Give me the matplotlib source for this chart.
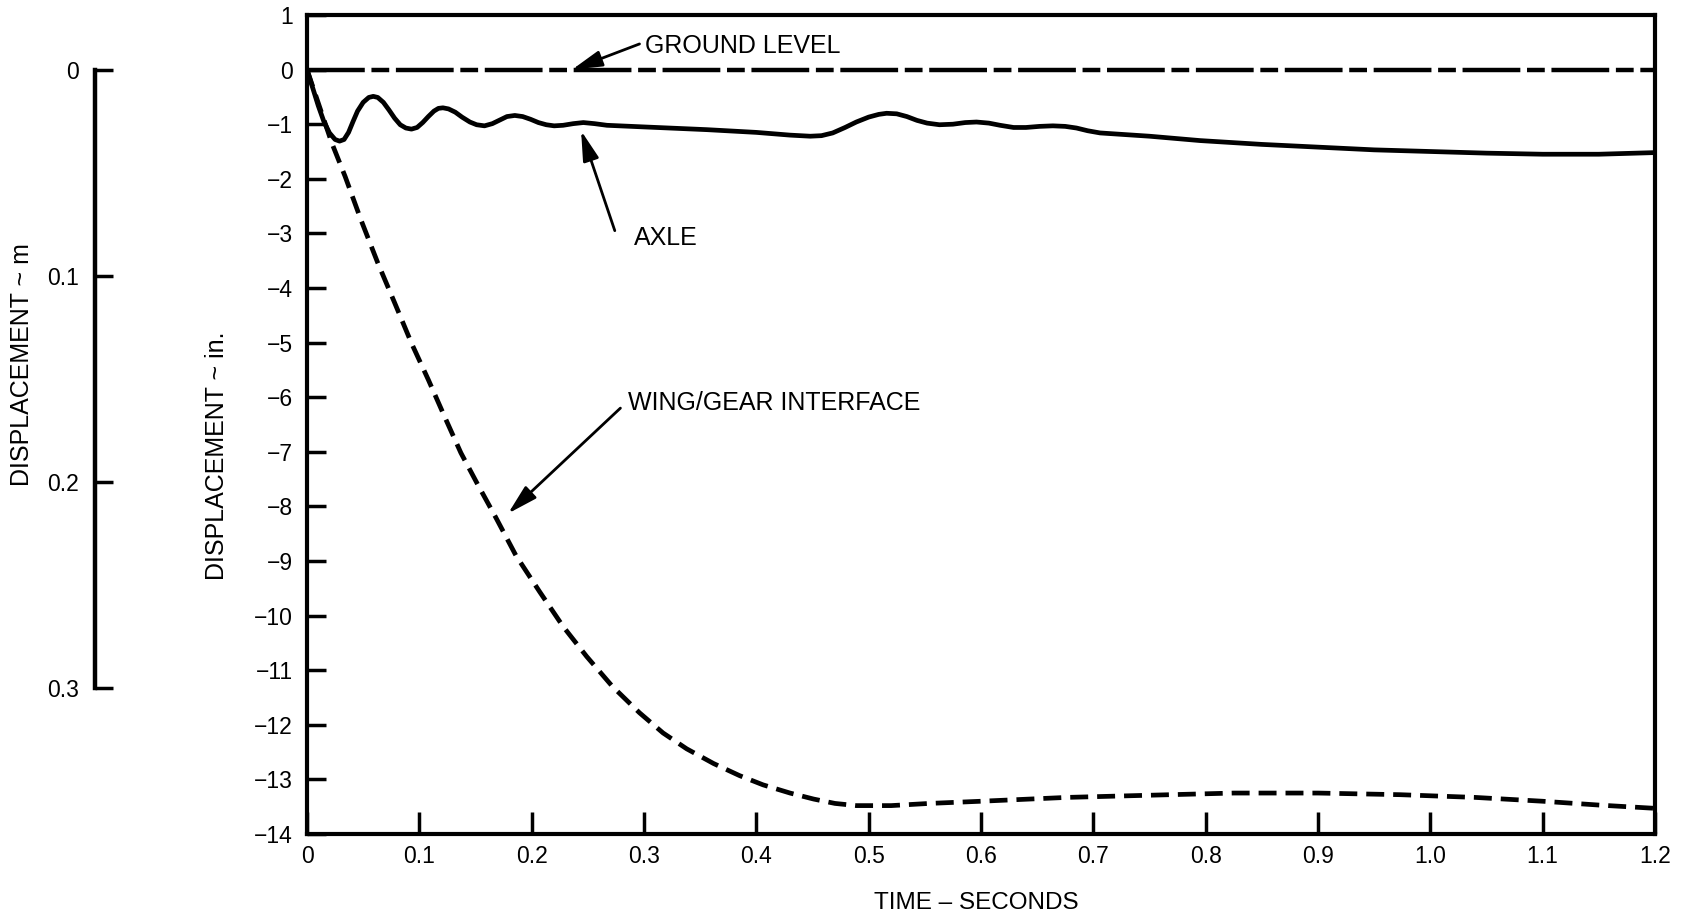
import numpy as np
import matplotlib
matplotlib.use("Agg")
import matplotlib.pyplot as plt

plt.rcParams['font.family'] = ['Liberation Sans', 'DejaVu Sans']

# time (s) and displacement (in.)
axle_t = [0, 0.005, 0.010, 0.015, 0.020, 0.025, 0.029, 0.033, 0.037, 0.041,
          0.045, 0.050, 0.055, 0.059, 0.063, 0.068, 0.073, 0.078, 0.083, 0.088,
          0.093, 0.098, 0.103, 0.108, 0.113, 0.117, 0.121, 0.126, 0.132, 0.138,
          0.145, 0.151, 0.158, 0.165, 0.172, 0.178, 0.185, 0.192, 0.199, 0.206,
          0.213, 0.220, 0.228, 0.237, 0.246, 0.256, 0.267, 0.30, 0.356, 0.40,
          0.430, 0.448, 0.458, 0.468, 0.479, 0.489, 0.500, 0.509, 0.516, 0.525,
          0.534, 0.543, 0.552, 0.563, 0.575, 0.586, 0.596, 0.607, 0.617, 0.629,
          0.640, 0.652, 0.664, 0.675, 0.685, 0.695, 0.706, 0.75, 0.795, 0.85,
          0.90, 0.95, 1.0, 1.05, 1.1, 1.15, 1.2]
axle_y = [0, -0.33, -0.66, -0.95, -1.16, -1.28, -1.31, -1.28, -1.15, -0.95,
          -0.76, -0.60, -0.51, -0.49, -0.51, -0.60, -0.74, -0.89, -1.01, -1.07,
          -1.09, -1.06, -0.97, -0.86, -0.76, -0.71, -0.70, -0.72, -0.78, -0.87,
          -0.96, -1.01, -1.03, -0.99, -0.92, -0.86, -0.84, -0.86, -0.91, -0.97,
          -1.01, -1.03, -1.02, -0.99, -0.97, -0.99, -1.02, -1.05, -1.10, -1.15,
          -1.20, -1.22, -1.21, -1.16, -1.06, -0.96, -0.87, -0.82, -0.80, -0.81,
          -0.86, -0.93, -0.98, -1.01, -1.00, -0.97, -0.96, -0.98, -1.02, -1.06,
          -1.06, -1.04, -1.03, -1.04, -1.07, -1.12, -1.16, -1.22, -1.30, -1.37,
          -1.42, -1.47, -1.50, -1.53, -1.55, -1.55, -1.52]

wing_t = [0, 0.022, 0.034, 0.048, 0.063, 0.078, 0.093, 0.108, 0.123, 0.137,
          0.152, 0.168, 0.186, 0.207, 0.228, 0.249, 0.272, 0.296, 0.317, 0.338,
          0.362, 0.385, 0.406, 0.430, 0.451, 0.470, 0.489, 0.52, 0.554, 0.60,
          0.676, 0.75, 0.825, 0.90, 0.973, 1.04, 1.10, 1.15, 1.2]
wing_y = [0, -1.34, -1.96, -2.75, -3.54, -4.27, -5.01, -5.68, -6.38, -7.02,
          -7.60, -8.20, -8.90, -9.56, -10.20, -10.75, -11.30, -11.78, -12.15, -12.44,
          -12.71, -12.93, -13.10, -13.25, -13.36, -13.44, -13.48, -13.48, -13.44, -13.40,
          -13.33, -13.29, -13.25, -13.25, -13.28, -13.33, -13.40, -13.47, -13.53]

ground_t = [0, 1.2]
ground_y = [0, 0]

x_ticks = [0, 0.1, 0.2, 0.3, 0.4, 0.5, 0.6, 0.7, 0.8, 0.9, 1.0, 1.1, 1.2]
x_labels = ['0', '0.1', '0.2', '0.3', '0.4', '0.5', '0.6', '0.7', '0.8', '0.9', '1.0', '1.1', '1.2']
y_ticks = list(range(-14, 2))
m_ticks = [0, 0.1, 0.2, 0.3]
m_labels = ['0', '0.1', '0.2', '0.3']

W, H = 1685, 921
fig = plt.figure(figsize=(W / 100, H / 100), dpi=100)

ax = fig.add_axes([307 / W, 1 - 834 / H, (1655 - 307) / W, (834 - 15) / H])
ax.plot(ground_t, ground_y, color='black', lw=3.2, dashes=(13, 1.5, 4, 1.5))
ax.plot(axle_t, axle_y, color='black', lw=3.4, solid_joinstyle='round')
ax.plot(wing_t, wing_y, color='black', lw=3.4, dashes=(3.8, 1.9))

ax.set_xlim(0, 1.2)
ax.set_ylim(-14, 1)
ax.set_xticks(x_ticks)
ax.set_xticklabels(x_labels)
ax.set_yticks(y_ticks)
for s in ax.spines.values():
    s.set_linewidth(3.0)
ax.tick_params(axis='both', direction='in', labelsize=16.5, width=2.5)
ax.tick_params(axis='x', length=16, pad=8)
ax.tick_params(axis='y', length=14, pad=10)

arrow = dict(arrowstyle='-|>,head_length=1.3,head_width=0.35', color='black',
             lw=2, mutation_scale=14, shrinkA=0, shrinkB=0)
ax.annotate('', xy=(0.236, 0.0), xytext=(0.296, 0.47), arrowprops=arrow)
ax.text(0.301, 0.43, 'GROUND LEVEL', fontsize=18, ha='left', va='center')
ax.annotate('', xy=(0.244, -1.12), xytext=(0.274, -2.95), arrowprops=arrow)
ax.text(0.291, -3.09, 'AXLE', fontsize=18, ha='left', va='center')
ax.annotate('', xy=(0.179, -8.13), xytext=(0.279, -6.2), arrowprops=arrow)
ax.text(0.286, -6.1, 'WING/GEAR INTERFACE', fontsize=18, ha='left', va='center')

fig.text(976 / W, 1 - 903 / H, 'TIME \u2013 SECONDS', fontsize=17.5,
         ha='center', va='center')
fig.text(217 / W, 1 - 456 / H, 'DISPLACEMENT ~ in.', rotation=90, fontsize=18,
         ha='center', va='center')

# metric scale on the far left
ax2 = fig.add_axes([94.6 / W, 1 - 687.7 / H, 0.02, (687.7 - 69.85) / H])
ax2.set_ylim(0.3, 0)
ax2.set_xticks([])
ax2.set_yticks(m_ticks)
ax2.set_yticklabels(m_labels)
for k in ['top', 'right', 'bottom']:
    ax2.spines[k].set_visible(False)
ax2.spines['left'].set_linewidth(3.2)
ax2.patch.set_visible(False)
ax2.tick_params(axis='y', direction='in', length=13, width=2.5, labelsize=16.5, pad=11)
fig.text(21.7 / W, 1 - 365 / H, 'DISPLACEMENT ~ m', rotation=90, fontsize=18,
         ha='center', va='center')

fig.savefig('out.png', dpi=100)
